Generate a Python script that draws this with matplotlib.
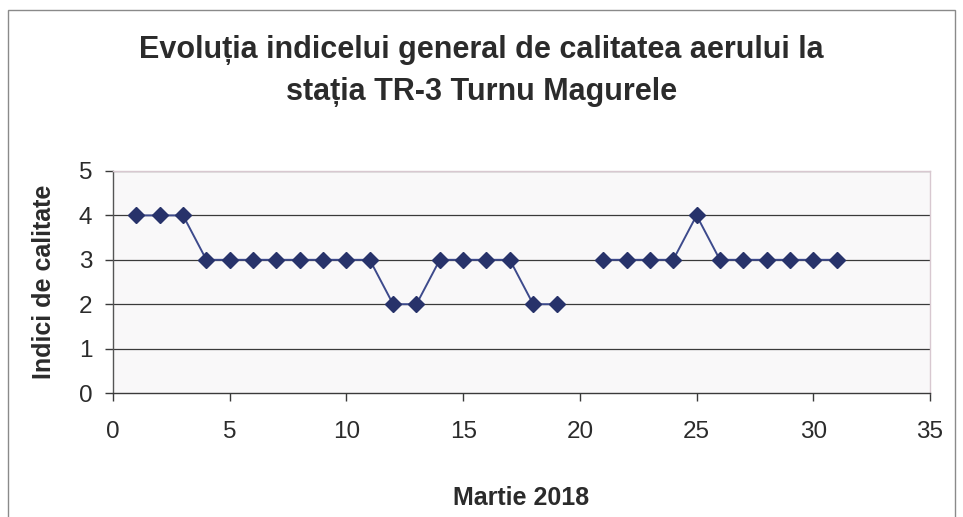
import numpy as np
import matplotlib.pyplot as plt
import matplotlib as mpl
from matplotlib.patches import Rectangle

# Data (day of March 2018, air quality index); day 20 missing
days = list(range(1, 32))
index_values = [4, 4, 4, 3, 3, 3, 3, 3, 3, 3,
                3, 2, 2, 3, 3, 3, 3, 2, 2, np.nan,
                3, 3, 3, 3, 4, 3, 3, 3, 3, 3, 3]
x_ticks = [0, 5, 10, 15, 20, 25, 30, 35]
y_ticks = [0, 1, 2, 3, 4, 5]

TITLE = "Evoluția indicelui general de calitatea aerului la\nstația TR-3 Turnu Magurele"
XLABEL = "Martie 2018"
YLABEL = "Indici de calitate"

mpl.rcParams.update({
    "font.family": ["Liberation Sans", "DejaVu Sans"],
    "text.color": "#2b2b2b",
    "axes.labelcolor": "#2b2b2b",
    "xtick.color": "#2b2b2b",
    "ytick.color": "#2b2b2b",
})

fig = plt.figure(figsize=(9.63, 5.17), dpi=100)
fig.patch.set_facecolor("white")

# outer chart border
fig.patches.append(Rectangle((8 / 963, -0.01), 947 / 963, 1 - 10 / 517 + 0.01,
                             transform=fig.transFigure, fill=False,
                             edgecolor="#8a8a8a", linewidth=1.0))

ax = fig.add_axes([113 / 963, 1 - 393 / 517, 817 / 963, 222 / 517])
ax.set_facecolor("#f9f8f9")

for y in y_ticks[1:]:
    ax.axhline(y, color="#3a3a3a", linewidth=0.9, zorder=1)

ax.plot(days, index_values, color="#3d4a8c", linewidth=1.4, marker="D",
        markersize=8, markerfacecolor="#27326a", markeredgecolor="#27326a",
        zorder=3)

ax.set_xlim(0, 35)
ax.set_ylim(0, 5)
ax.set_xticks(x_ticks)
ax.set_yticks(y_ticks)
ax.tick_params(axis="both", labelsize=17.5, length=6, width=1.0,
               direction="out", color="#3a3a3a")
ax.tick_params(axis="x", pad=14)
ax.tick_params(axis="y", pad=9)

ax.spines["left"].set_color("#555555")
ax.spines["bottom"].set_color("#3a3a3a")
ax.spines["top"].set_color("#d8c8d0")
ax.spines["right"].set_color("#d8c8d0")
for s in ax.spines.values():
    s.set_linewidth(1.0)

ax.set_xlabel(XLABEL, fontsize=18, fontweight="bold", labelpad=31)
ax.set_ylabel(YLABEL, fontsize=18, fontweight="bold", labelpad=16)

fig.text(0.5, 1 - 71 / 517, TITLE, ha="center", va="center", fontsize=22,
         fontweight="bold", linespacing=1.55)

fig.savefig("out.png", dpi=100)
